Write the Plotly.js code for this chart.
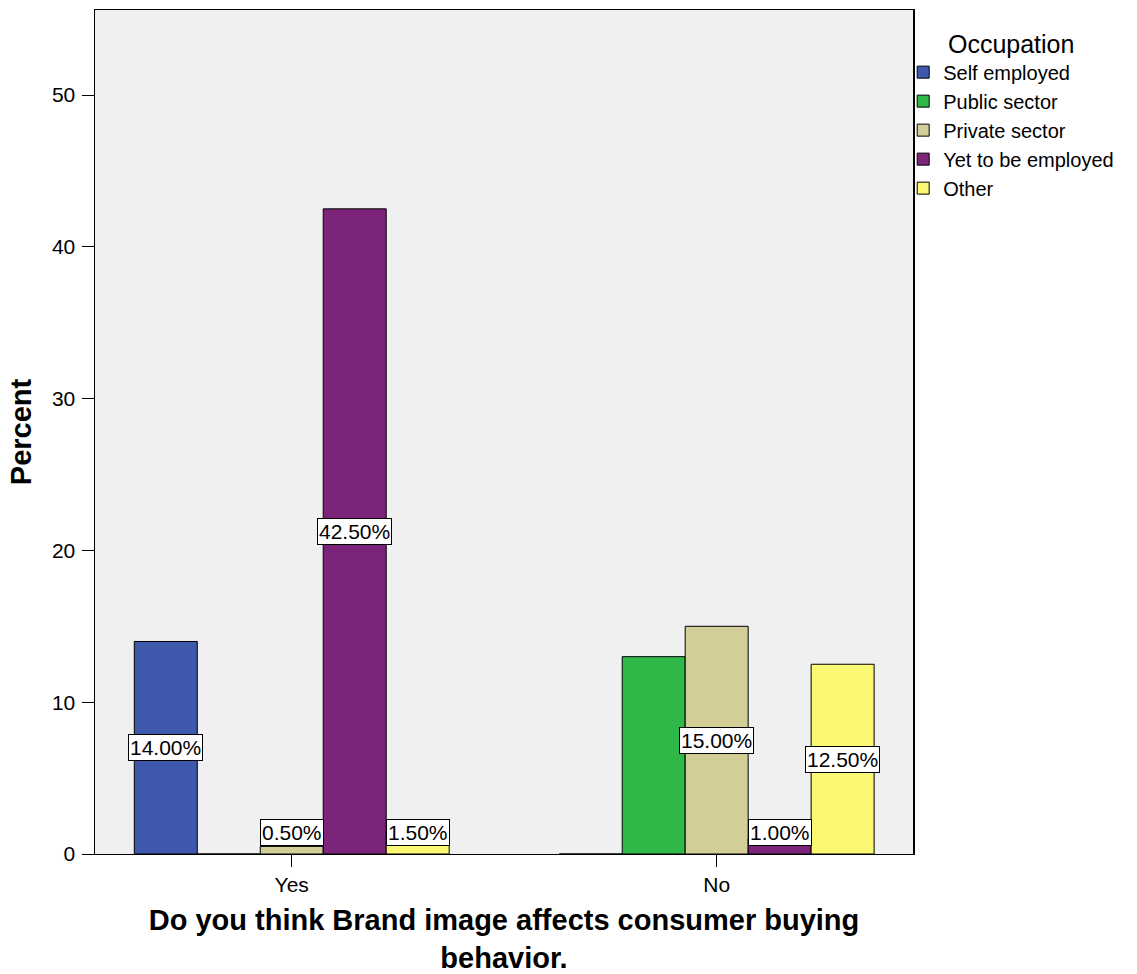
<!DOCTYPE html>
<html>
<head>
<meta charset="utf-8">
<script src="https://cdn.plot.ly/plotly-3.0.1.min.js"></script>
<style>html,body{margin:0;padding:0;background:#fff;}#chart{width:1137px;height:974px;}</style>
</head>
<body>
<div id="chart"></div>
<script>
const categories = ["Yes", "No"];
const seriesNames = ["Self employed", "Public sector", "Private sector", "Yet to be employed", "Other"];
const selfEmployed = [14.0, 0];
const publicSector = [0, 13.0];
const privateSector = [0.5, 15.0];
const yetToBeEmployed = [42.5, 1.0];
const other = [1.5, 12.5];
const labelsSelf = ["14.00%", ""];
const labelsPublic = ["", ""];
const labelsPrivate = ["0.50%", "15.00%"];
const labelsYet = ["42.50%", "1.00%"];
const labelsOther = ["1.50%", "12.50%"];
const yTicks = [0, 10, 20, 30, 40, 50];

const values = [selfEmployed, publicSector, privateSector, yetToBeEmployed, other];
const labels = [labelsSelf, labelsPublic, labelsPrivate, labelsYet, labelsOther];
const colors = ["#3e58ac", "#2eb848", "#d3ce97", "#7b2479", "#fbf873"];

const FONT = "Liberation Sans, Arial, sans-serif";
const bargap = 0.259;
const nSeries = seriesNames.length;
const slotW = (1 - bargap) / nSeries;
const yMax = 55.6;
const labelFloor = 1.4;

const traces = seriesNames.map((name, i) => ({
  type: "bar",
  name: name,
  x: categories,
  y: values[i],
  marker: {color: colors[i], line: {color: "#000", width: 1}},
  hoverinfo: "none"
}));

const annotations = [];
labels.forEach((arr, i) => {
  arr.forEach((txt, c) => {
    if (!txt) return;
    annotations.push({
      xref: "x", yref: "y",
      x: c + (i - (nSeries - 1) / 2) * slotW,
      y: Math.max(values[i][c] / 2, labelFloor),
      text: txt,
      showarrow: false,
      bgcolor: "#ffffff",
      bordercolor: "#000000",
      borderwidth: 1,
      borderpad: 1,
      font: {family: FONT, size: 21, color: "#000"}
    });
  });
});

const layout = {
  width: 1137, height: 974,
  margin: {l: 95, r: 224, t: 10, b: 120},
  paper_bgcolor: "#ffffff",
  plot_bgcolor: "#f0f0f0",
  barmode: "group",
  bargap: bargap,
  bargroupgap: 0,
  font: {family: FONT, size: 21, color: "#000"},
  xaxis: {
    type: "category",
    range: [-0.463, 1.462],
    showline: true, linecolor: "#000", linewidth: 1, mirror: true,
    ticks: "outside", ticklen: 12, tickcolor: "#000", tickwidth: 1,
    showgrid: false, zeroline: false,
    tickfont: {family: FONT, size: 21},
    ticklabelstandoff: 0,
    title: {text: "<b>Do you think Brand image affects consumer buying<br>behavior.</b>", font: {family: FONT, size: 29}, standoff: 18}
  },
  yaxis: {
    range: [0, yMax],
    tickvals: yTicks,
    showline: true, linecolor: "#000", linewidth: 1.5, mirror: true,
    ticks: "outside", ticklen: 12, tickcolor: "#000", tickwidth: 1,
    showgrid: false, zeroline: false,
    tickfont: {family: FONT, size: 21},
    ticklabelstandoff: 2,
    title: {text: "<b>Percent</b>", font: {family: FONT, size: 29}, standoff: 12}
  },
  legend: {
    x: 0.988, xanchor: "left", y: 0.988, yanchor: "top",
    bgcolor: "rgba(0,0,0,0)",
    font: {family: FONT, size: 20},
    title: {text: "Occupation", font: {family: FONT, size: 25}, side: "top center"},
    tracegroupgap: 0,
    itemclick: false
  },
  showlegend: true,
  annotations: annotations
};

Plotly.newPlot("chart", traces, layout, {displayModeBar: false, staticPlot: true});
</script>
</body>
</html>
